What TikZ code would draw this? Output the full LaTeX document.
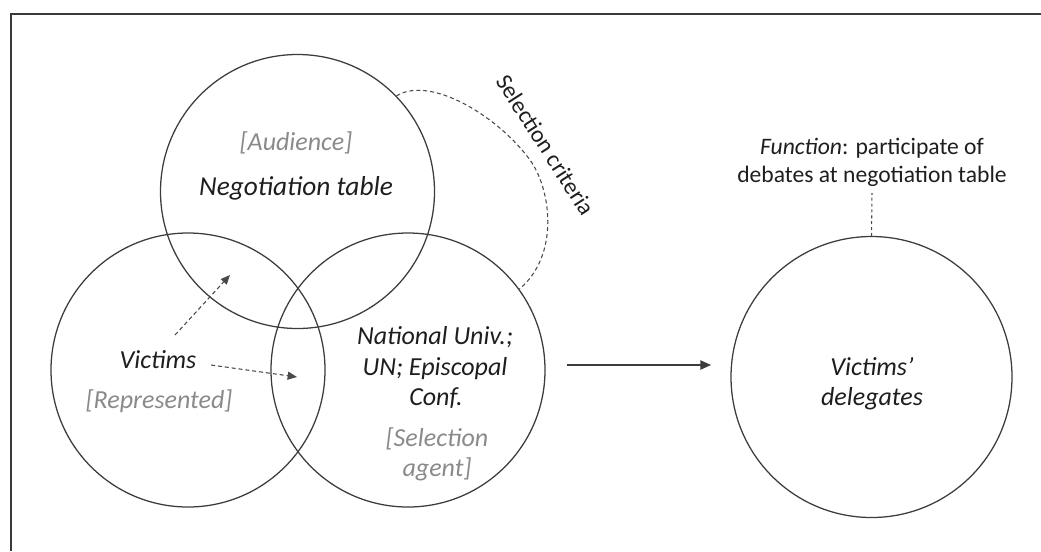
\documentclass[tikz,border=0pt]{standalone}
\usepackage{fontspec}
\setmainfont{Carlito}
\usetikzlibrary{arrows.meta}
\definecolor{ink}{HTML}{1E1E1E}
\definecolor{graytxt}{HTML}{8A8A8A}
\definecolor{linec}{HTML}{3C3C3C}
\definecolor{framec}{HTML}{3A3A3A}
\definecolor{dashc}{HTML}{4A4A4A}
\begin{document}
\begin{tikzpicture}[x=0.75pt,y=-0.75pt,
  ring/.style={circle,draw=linec,line width=0.95pt,inner sep=0pt,minimum size=#1},
  bigtxt/.style={font=\fontsize{19.5}{23}\selectfont\itshape,text=ink,anchor=base,inner sep=0pt},
  graybr/.style={font=\fontsize{19.5}{23}\selectfont\itshape,text=graytxt,anchor=base,inner sep=0pt},
  smalltxt/.style={font=\fontsize{17.7}{21}\selectfont,text=ink,anchor=base,inner sep=0pt},
  dashline/.style={draw=dashc,line width=0.8pt,dash pattern=on 3pt off 2.2pt},
  dasharrow/.style={dashline,-{Triangle[length=7pt,width=6pt]}},
  solidarrow/.style={draw=linec,line width=1pt,-{Triangle[length=8pt,width=7pt]}}]
\useasboundingbox (0,0) rectangle (1041,551);
% frame
\draw[framec,line width=2.2pt] (11,551) -- (11,14) -- (1041,14);
% circles
\node[ring=205.5pt] (top) at (297.5,191.5) {};
\node[ring=205.5pt] (left) at (188,370) {};
\node[ring=205.5pt] (mid) at (408,370) {};
\node[ring=210.75pt] (deleg) at (871.5,377) {};
% texts
\node[graybr] (aud) at (296,150) {[Audience]};
\node[bigtxt,font=\fontsize{20.5}{24}\selectfont\itshape] (negt) at (296,195) {Negotiation table};
\node[bigtxt] (vict) at (158,368) {Victims};
\node[graybr] (repr) at (159,408) {[Represented]};
\node[bigtxt] (nat1) at (435,344) {National Univ.;};
\node[bigtxt] (nat2) at (435,375) {UN; Episcopal};
\node[bigtxt] (nat3) at (436,405) {Conf.};
\node[graybr] (sel1) at (437,446) {[Selection};
\node[graybr] (sel2) at (437,476) {agent]};
\node[bigtxt] (del1) at (872,375) {Victims’};
\node[bigtxt] (del2) at (872,405) {delegates};
\node[smalltxt] (fun1) at (872,154) {\textit{Function}: participate of};
\node[smalltxt] (fun2) at (872,182) {debates at negotiation table};
\node[font=\fontsize{17.7}{21}\selectfont,text=ink,rotate=-57.4,inner sep=0pt] (crit) at (546,145) {Selection criteria};
% selection criteria curve
\draw[dashline] (top.44) .. controls (430,75) and (498,116) .. (530,160)
  .. controls (551,189) and (560,255) .. (mid.36);
% dashed arrows from victims
\coordinate (va1) at (175,335);
\coordinate (va2) at (230,275);
\coordinate (vb1) at (211,365);
\coordinate (vb2) at (297,377);
\draw[dasharrow] (va1) -- (va2);
\draw[dasharrow] (vb1) -- (vb2);
% main arrow
\coordinate (ma1) at (567,365);
\coordinate (ma2) at (711,365);
\draw[solidarrow] (ma1) -- (ma2);
% function connector
\coordinate (ftop) at (872,193);
\draw[dashline,dash pattern=on 2.2pt off 2.2pt] (deleg.north) -- (ftop);
\end{tikzpicture}
\end{document}
